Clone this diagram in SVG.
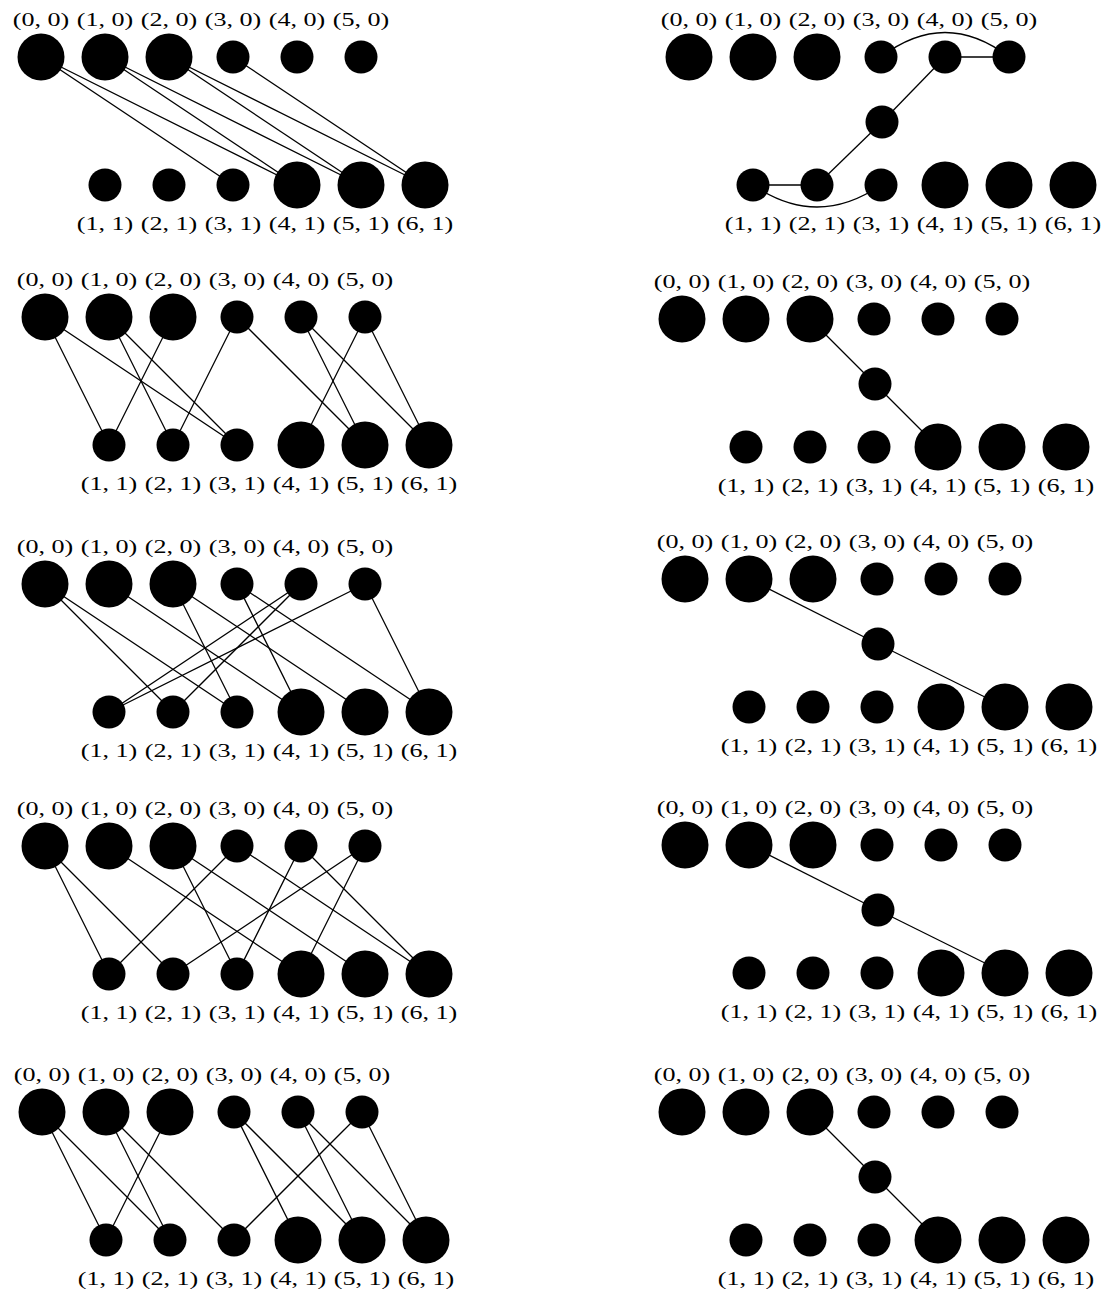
<svg xmlns="http://www.w3.org/2000/svg" width="1107" height="1291" viewBox="0 0 1107 1291">
<style>
.e{stroke:#000;stroke-width:1.3;fill:none}
circle{fill:#000}
text{font-family:"Liberation Serif","DejaVu Serif",serif;font-size:18px;text-anchor:middle;fill:#000}
</style>
<rect width="1107" height="1291" fill="#fff"/>

<!-- Panel L1 -->
<g id="L1">
<g id="L1-edges">
<line class="e" x1="41" y1="57" x2="233" y2="185"/>
<line class="e" x1="41" y1="57" x2="297" y2="185"/>
<line class="e" x1="105" y1="57" x2="297" y2="185"/>
<line class="e" x1="105" y1="57" x2="361" y2="185"/>
<line class="e" x1="169" y1="57" x2="361" y2="185"/>
<line class="e" x1="169" y1="57" x2="425" y2="185"/>
<line class="e" x1="233" y1="57" x2="425" y2="185"/>
</g>
<g id="L1-n00"><circle cx="41" cy="57" r="23.5"/><text transform="translate(41 26) scale(1.45 1)">(0, 0)</text></g>
<g id="L1-n10"><circle cx="105" cy="57" r="23.5"/><text transform="translate(105 26) scale(1.45 1)">(1, 0)</text></g>
<g id="L1-n20"><circle cx="169" cy="57" r="23.5"/><text transform="translate(169 26) scale(1.45 1)">(2, 0)</text></g>
<g id="L1-n30"><circle cx="233" cy="57" r="16.5"/><text transform="translate(233 26) scale(1.45 1)">(3, 0)</text></g>
<g id="L1-n40"><circle cx="297" cy="57" r="16.5"/><text transform="translate(297 26) scale(1.45 1)">(4, 0)</text></g>
<g id="L1-n50"><circle cx="361" cy="57" r="16.5"/><text transform="translate(361 26) scale(1.45 1)">(5, 0)</text></g>
<g id="L1-n11"><circle cx="105" cy="185" r="16.5"/><text transform="translate(105 230) scale(1.45 1)">(1, 1)</text></g>
<g id="L1-n21"><circle cx="169" cy="185" r="16.5"/><text transform="translate(169 230) scale(1.45 1)">(2, 1)</text></g>
<g id="L1-n31"><circle cx="233" cy="185" r="16.5"/><text transform="translate(233 230) scale(1.45 1)">(3, 1)</text></g>
<g id="L1-n41"><circle cx="297" cy="185" r="23.5"/><text transform="translate(297 230) scale(1.45 1)">(4, 1)</text></g>
<g id="L1-n51"><circle cx="361" cy="185" r="23.5"/><text transform="translate(361 230) scale(1.45 1)">(5, 1)</text></g>
<g id="L1-n61"><circle cx="425" cy="185" r="23.5"/><text transform="translate(425 230) scale(1.45 1)">(6, 1)</text></g>
</g>

<!-- Panel R1 -->
<g id="R1">
<g id="R1-edges">
<line class="e" x1="945" y1="57" x2="1009" y2="57"/>
<path class="e" d="M881 57 Q945 8 1009 57"/>
<line class="e" x1="882" y1="122" x2="945" y2="57"/>
<line class="e" x1="882" y1="122" x2="817" y2="185"/>
<line class="e" x1="753" y1="185" x2="817" y2="185"/>
<path class="e" d="M753 185 Q817 229 881 185"/>
</g>
<g id="R1-n00"><circle cx="689" cy="57" r="23.5"/><text transform="translate(689 26) scale(1.45 1)">(0, 0)</text></g>
<g id="R1-n10"><circle cx="753" cy="57" r="23.5"/><text transform="translate(753 26) scale(1.45 1)">(1, 0)</text></g>
<g id="R1-n20"><circle cx="817" cy="57" r="23.5"/><text transform="translate(817 26) scale(1.45 1)">(2, 0)</text></g>
<g id="R1-n30"><circle cx="881" cy="57" r="16.5"/><text transform="translate(881 26) scale(1.45 1)">(3, 0)</text></g>
<g id="R1-n40"><circle cx="945" cy="57" r="16.5"/><text transform="translate(945 26) scale(1.45 1)">(4, 0)</text></g>
<g id="R1-n50"><circle cx="1009" cy="57" r="16.5"/><text transform="translate(1009 26) scale(1.45 1)">(5, 0)</text></g>
<g id="R1-mid"><circle cx="882" cy="122" r="16.5"/></g>
<g id="R1-n11"><circle cx="753" cy="185" r="16.5"/><text transform="translate(753 230) scale(1.45 1)">(1, 1)</text></g>
<g id="R1-n21"><circle cx="817" cy="185" r="16.5"/><text transform="translate(817 230) scale(1.45 1)">(2, 1)</text></g>
<g id="R1-n31"><circle cx="881" cy="185" r="16.5"/><text transform="translate(881 230) scale(1.45 1)">(3, 1)</text></g>
<g id="R1-n41"><circle cx="945" cy="185" r="23.5"/><text transform="translate(945 230) scale(1.45 1)">(4, 1)</text></g>
<g id="R1-n51"><circle cx="1009" cy="185" r="23.5"/><text transform="translate(1009 230) scale(1.45 1)">(5, 1)</text></g>
<g id="R1-n61"><circle cx="1073" cy="185" r="23.5"/><text transform="translate(1073 230) scale(1.45 1)">(6, 1)</text></g>
</g>

<!-- Panel L2 -->
<g id="L2">
<g id="L2-edges">
<line class="e" x1="45" y1="317" x2="109" y2="445"/>
<line class="e" x1="45" y1="317" x2="237" y2="445"/>
<line class="e" x1="109" y1="317" x2="173" y2="445"/>
<line class="e" x1="109" y1="317" x2="237" y2="445"/>
<line class="e" x1="173" y1="317" x2="109" y2="445"/>
<line class="e" x1="237" y1="317" x2="173" y2="445"/>
<line class="e" x1="237" y1="317" x2="365" y2="445"/>
<line class="e" x1="301" y1="317" x2="365" y2="445"/>
<line class="e" x1="301" y1="317" x2="429" y2="445"/>
<line class="e" x1="365" y1="317" x2="301" y2="445"/>
<line class="e" x1="365" y1="317" x2="429" y2="445"/>
</g>
<g id="L2-n00"><circle cx="45" cy="317" r="23.5"/><text transform="translate(45 286) scale(1.45 1)">(0, 0)</text></g>
<g id="L2-n10"><circle cx="109" cy="317" r="23.5"/><text transform="translate(109 286) scale(1.45 1)">(1, 0)</text></g>
<g id="L2-n20"><circle cx="173" cy="317" r="23.5"/><text transform="translate(173 286) scale(1.45 1)">(2, 0)</text></g>
<g id="L2-n30"><circle cx="237" cy="317" r="16.5"/><text transform="translate(237 286) scale(1.45 1)">(3, 0)</text></g>
<g id="L2-n40"><circle cx="301" cy="317" r="16.5"/><text transform="translate(301 286) scale(1.45 1)">(4, 0)</text></g>
<g id="L2-n50"><circle cx="365" cy="317" r="16.5"/><text transform="translate(365 286) scale(1.45 1)">(5, 0)</text></g>
<g id="L2-n11"><circle cx="109" cy="445" r="16.5"/><text transform="translate(109 490) scale(1.45 1)">(1, 1)</text></g>
<g id="L2-n21"><circle cx="173" cy="445" r="16.5"/><text transform="translate(173 490) scale(1.45 1)">(2, 1)</text></g>
<g id="L2-n31"><circle cx="237" cy="445" r="16.5"/><text transform="translate(237 490) scale(1.45 1)">(3, 1)</text></g>
<g id="L2-n41"><circle cx="301" cy="445" r="23.5"/><text transform="translate(301 490) scale(1.45 1)">(4, 1)</text></g>
<g id="L2-n51"><circle cx="365" cy="445" r="23.5"/><text transform="translate(365 490) scale(1.45 1)">(5, 1)</text></g>
<g id="L2-n61"><circle cx="429" cy="445" r="23.5"/><text transform="translate(429 490) scale(1.45 1)">(6, 1)</text></g>
</g>

<!-- Panel R2 -->
<g id="R2">
<g id="R2-edges">
<line class="e" x1="810" y1="319" x2="875" y2="384"/>
<line class="e" x1="875" y1="384" x2="938" y2="447"/>
</g>
<g id="R2-n00"><circle cx="682" cy="319" r="23.5"/><text transform="translate(682 288) scale(1.45 1)">(0, 0)</text></g>
<g id="R2-n10"><circle cx="746" cy="319" r="23.5"/><text transform="translate(746 288) scale(1.45 1)">(1, 0)</text></g>
<g id="R2-n20"><circle cx="810" cy="319" r="23.5"/><text transform="translate(810 288) scale(1.45 1)">(2, 0)</text></g>
<g id="R2-n30"><circle cx="874" cy="319" r="16.5"/><text transform="translate(874 288) scale(1.45 1)">(3, 0)</text></g>
<g id="R2-n40"><circle cx="938" cy="319" r="16.5"/><text transform="translate(938 288) scale(1.45 1)">(4, 0)</text></g>
<g id="R2-n50"><circle cx="1002" cy="319" r="16.5"/><text transform="translate(1002 288) scale(1.45 1)">(5, 0)</text></g>
<g id="R2-mid"><circle cx="875" cy="384" r="16.5"/></g>
<g id="R2-n11"><circle cx="746" cy="447" r="16.5"/><text transform="translate(746 492) scale(1.45 1)">(1, 1)</text></g>
<g id="R2-n21"><circle cx="810" cy="447" r="16.5"/><text transform="translate(810 492) scale(1.45 1)">(2, 1)</text></g>
<g id="R2-n31"><circle cx="874" cy="447" r="16.5"/><text transform="translate(874 492) scale(1.45 1)">(3, 1)</text></g>
<g id="R2-n41"><circle cx="938" cy="447" r="23.5"/><text transform="translate(938 492) scale(1.45 1)">(4, 1)</text></g>
<g id="R2-n51"><circle cx="1002" cy="447" r="23.5"/><text transform="translate(1002 492) scale(1.45 1)">(5, 1)</text></g>
<g id="R2-n61"><circle cx="1066" cy="447" r="23.5"/><text transform="translate(1066 492) scale(1.45 1)">(6, 1)</text></g>
</g>

<!-- Panel L3 -->
<g id="L3">
<g id="L3-edges">
<line class="e" x1="45" y1="584" x2="173" y2="712"/>
<line class="e" x1="45" y1="584" x2="237" y2="712"/>
<line class="e" x1="109" y1="584" x2="301" y2="712"/>
<line class="e" x1="173" y1="584" x2="237" y2="712"/>
<line class="e" x1="173" y1="584" x2="365" y2="712"/>
<line class="e" x1="237" y1="584" x2="301" y2="712"/>
<line class="e" x1="237" y1="584" x2="429" y2="712"/>
<line class="e" x1="301" y1="584" x2="109" y2="712"/>
<line class="e" x1="301" y1="584" x2="173" y2="712"/>
<line class="e" x1="365" y1="584" x2="109" y2="712"/>
<line class="e" x1="365" y1="584" x2="429" y2="712"/>
</g>
<g id="L3-n00"><circle cx="45" cy="584" r="23.5"/><text transform="translate(45 553) scale(1.45 1)">(0, 0)</text></g>
<g id="L3-n10"><circle cx="109" cy="584" r="23.5"/><text transform="translate(109 553) scale(1.45 1)">(1, 0)</text></g>
<g id="L3-n20"><circle cx="173" cy="584" r="23.5"/><text transform="translate(173 553) scale(1.45 1)">(2, 0)</text></g>
<g id="L3-n30"><circle cx="237" cy="584" r="16.5"/><text transform="translate(237 553) scale(1.45 1)">(3, 0)</text></g>
<g id="L3-n40"><circle cx="301" cy="584" r="16.5"/><text transform="translate(301 553) scale(1.45 1)">(4, 0)</text></g>
<g id="L3-n50"><circle cx="365" cy="584" r="16.5"/><text transform="translate(365 553) scale(1.45 1)">(5, 0)</text></g>
<g id="L3-n11"><circle cx="109" cy="712" r="16.5"/><text transform="translate(109 757) scale(1.45 1)">(1, 1)</text></g>
<g id="L3-n21"><circle cx="173" cy="712" r="16.5"/><text transform="translate(173 757) scale(1.45 1)">(2, 1)</text></g>
<g id="L3-n31"><circle cx="237" cy="712" r="16.5"/><text transform="translate(237 757) scale(1.45 1)">(3, 1)</text></g>
<g id="L3-n41"><circle cx="301" cy="712" r="23.5"/><text transform="translate(301 757) scale(1.45 1)">(4, 1)</text></g>
<g id="L3-n51"><circle cx="365" cy="712" r="23.5"/><text transform="translate(365 757) scale(1.45 1)">(5, 1)</text></g>
<g id="L3-n61"><circle cx="429" cy="712" r="23.5"/><text transform="translate(429 757) scale(1.45 1)">(6, 1)</text></g>
</g>

<!-- Panel R3 -->
<g id="R3">
<g id="R3-edges">
<line class="e" x1="749" y1="579" x2="878" y2="644"/>
<line class="e" x1="878" y1="644" x2="1005" y2="707"/>
</g>
<g id="R3-n00"><circle cx="685" cy="579" r="23.5"/><text transform="translate(685 548) scale(1.45 1)">(0, 0)</text></g>
<g id="R3-n10"><circle cx="749" cy="579" r="23.5"/><text transform="translate(749 548) scale(1.45 1)">(1, 0)</text></g>
<g id="R3-n20"><circle cx="813" cy="579" r="23.5"/><text transform="translate(813 548) scale(1.45 1)">(2, 0)</text></g>
<g id="R3-n30"><circle cx="877" cy="579" r="16.5"/><text transform="translate(877 548) scale(1.45 1)">(3, 0)</text></g>
<g id="R3-n40"><circle cx="941" cy="579" r="16.5"/><text transform="translate(941 548) scale(1.45 1)">(4, 0)</text></g>
<g id="R3-n50"><circle cx="1005" cy="579" r="16.5"/><text transform="translate(1005 548) scale(1.45 1)">(5, 0)</text></g>
<g id="R3-mid"><circle cx="878" cy="644" r="16.5"/></g>
<g id="R3-n11"><circle cx="749" cy="707" r="16.5"/><text transform="translate(749 752) scale(1.45 1)">(1, 1)</text></g>
<g id="R3-n21"><circle cx="813" cy="707" r="16.5"/><text transform="translate(813 752) scale(1.45 1)">(2, 1)</text></g>
<g id="R3-n31"><circle cx="877" cy="707" r="16.5"/><text transform="translate(877 752) scale(1.45 1)">(3, 1)</text></g>
<g id="R3-n41"><circle cx="941" cy="707" r="23.5"/><text transform="translate(941 752) scale(1.45 1)">(4, 1)</text></g>
<g id="R3-n51"><circle cx="1005" cy="707" r="23.5"/><text transform="translate(1005 752) scale(1.45 1)">(5, 1)</text></g>
<g id="R3-n61"><circle cx="1069" cy="707" r="23.5"/><text transform="translate(1069 752) scale(1.45 1)">(6, 1)</text></g>
</g>

<!-- Panel L4 -->
<g id="L4">
<g id="L4-edges">
<line class="e" x1="45" y1="846" x2="109" y2="974"/>
<line class="e" x1="45" y1="846" x2="173" y2="974"/>
<line class="e" x1="109" y1="846" x2="301" y2="974"/>
<line class="e" x1="173" y1="846" x2="237" y2="974"/>
<line class="e" x1="173" y1="846" x2="365" y2="974"/>
<line class="e" x1="237" y1="846" x2="109" y2="974"/>
<line class="e" x1="237" y1="846" x2="429" y2="974"/>
<line class="e" x1="301" y1="846" x2="237" y2="974"/>
<line class="e" x1="301" y1="846" x2="429" y2="974"/>
<line class="e" x1="365" y1="846" x2="173" y2="974"/>
<line class="e" x1="365" y1="846" x2="301" y2="974"/>
</g>
<g id="L4-n00"><circle cx="45" cy="846" r="23.5"/><text transform="translate(45 815) scale(1.45 1)">(0, 0)</text></g>
<g id="L4-n10"><circle cx="109" cy="846" r="23.5"/><text transform="translate(109 815) scale(1.45 1)">(1, 0)</text></g>
<g id="L4-n20"><circle cx="173" cy="846" r="23.5"/><text transform="translate(173 815) scale(1.45 1)">(2, 0)</text></g>
<g id="L4-n30"><circle cx="237" cy="846" r="16.5"/><text transform="translate(237 815) scale(1.45 1)">(3, 0)</text></g>
<g id="L4-n40"><circle cx="301" cy="846" r="16.5"/><text transform="translate(301 815) scale(1.45 1)">(4, 0)</text></g>
<g id="L4-n50"><circle cx="365" cy="846" r="16.5"/><text transform="translate(365 815) scale(1.45 1)">(5, 0)</text></g>
<g id="L4-n11"><circle cx="109" cy="974" r="16.5"/><text transform="translate(109 1019) scale(1.45 1)">(1, 1)</text></g>
<g id="L4-n21"><circle cx="173" cy="974" r="16.5"/><text transform="translate(173 1019) scale(1.45 1)">(2, 1)</text></g>
<g id="L4-n31"><circle cx="237" cy="974" r="16.5"/><text transform="translate(237 1019) scale(1.45 1)">(3, 1)</text></g>
<g id="L4-n41"><circle cx="301" cy="974" r="23.5"/><text transform="translate(301 1019) scale(1.45 1)">(4, 1)</text></g>
<g id="L4-n51"><circle cx="365" cy="974" r="23.5"/><text transform="translate(365 1019) scale(1.45 1)">(5, 1)</text></g>
<g id="L4-n61"><circle cx="429" cy="974" r="23.5"/><text transform="translate(429 1019) scale(1.45 1)">(6, 1)</text></g>
</g>

<!-- Panel R4 -->
<g id="R4">
<g id="R4-edges">
<line class="e" x1="749" y1="845" x2="878" y2="910"/>
<line class="e" x1="878" y1="910" x2="1005" y2="973"/>
</g>
<g id="R4-n00"><circle cx="685" cy="845" r="23.5"/><text transform="translate(685 814) scale(1.45 1)">(0, 0)</text></g>
<g id="R4-n10"><circle cx="749" cy="845" r="23.5"/><text transform="translate(749 814) scale(1.45 1)">(1, 0)</text></g>
<g id="R4-n20"><circle cx="813" cy="845" r="23.5"/><text transform="translate(813 814) scale(1.45 1)">(2, 0)</text></g>
<g id="R4-n30"><circle cx="877" cy="845" r="16.5"/><text transform="translate(877 814) scale(1.45 1)">(3, 0)</text></g>
<g id="R4-n40"><circle cx="941" cy="845" r="16.5"/><text transform="translate(941 814) scale(1.45 1)">(4, 0)</text></g>
<g id="R4-n50"><circle cx="1005" cy="845" r="16.5"/><text transform="translate(1005 814) scale(1.45 1)">(5, 0)</text></g>
<g id="R4-mid"><circle cx="878" cy="910" r="16.5"/></g>
<g id="R4-n11"><circle cx="749" cy="973" r="16.5"/><text transform="translate(749 1018) scale(1.45 1)">(1, 1)</text></g>
<g id="R4-n21"><circle cx="813" cy="973" r="16.5"/><text transform="translate(813 1018) scale(1.45 1)">(2, 1)</text></g>
<g id="R4-n31"><circle cx="877" cy="973" r="16.5"/><text transform="translate(877 1018) scale(1.45 1)">(3, 1)</text></g>
<g id="R4-n41"><circle cx="941" cy="973" r="23.5"/><text transform="translate(941 1018) scale(1.45 1)">(4, 1)</text></g>
<g id="R4-n51"><circle cx="1005" cy="973" r="23.5"/><text transform="translate(1005 1018) scale(1.45 1)">(5, 1)</text></g>
<g id="R4-n61"><circle cx="1069" cy="973" r="23.5"/><text transform="translate(1069 1018) scale(1.45 1)">(6, 1)</text></g>
</g>

<!-- Panel L5 -->
<g id="L5">
<g id="L5-edges">
<line class="e" x1="42" y1="1112" x2="106" y2="1240"/>
<line class="e" x1="42" y1="1112" x2="170" y2="1240"/>
<line class="e" x1="106" y1="1112" x2="170" y2="1240"/>
<line class="e" x1="106" y1="1112" x2="234" y2="1240"/>
<line class="e" x1="170" y1="1112" x2="106" y2="1240"/>
<line class="e" x1="234" y1="1112" x2="298" y2="1240"/>
<line class="e" x1="234" y1="1112" x2="362" y2="1240"/>
<line class="e" x1="298" y1="1112" x2="362" y2="1240"/>
<line class="e" x1="298" y1="1112" x2="426" y2="1240"/>
<line class="e" x1="362" y1="1112" x2="234" y2="1240"/>
<line class="e" x1="362" y1="1112" x2="426" y2="1240"/>
</g>
<g id="L5-n00"><circle cx="42" cy="1112" r="23.5"/><text transform="translate(42 1081) scale(1.45 1)">(0, 0)</text></g>
<g id="L5-n10"><circle cx="106" cy="1112" r="23.5"/><text transform="translate(106 1081) scale(1.45 1)">(1, 0)</text></g>
<g id="L5-n20"><circle cx="170" cy="1112" r="23.5"/><text transform="translate(170 1081) scale(1.45 1)">(2, 0)</text></g>
<g id="L5-n30"><circle cx="234" cy="1112" r="16.5"/><text transform="translate(234 1081) scale(1.45 1)">(3, 0)</text></g>
<g id="L5-n40"><circle cx="298" cy="1112" r="16.5"/><text transform="translate(298 1081) scale(1.45 1)">(4, 0)</text></g>
<g id="L5-n50"><circle cx="362" cy="1112" r="16.5"/><text transform="translate(362 1081) scale(1.45 1)">(5, 0)</text></g>
<g id="L5-n11"><circle cx="106" cy="1240" r="16.5"/><text transform="translate(106 1285) scale(1.45 1)">(1, 1)</text></g>
<g id="L5-n21"><circle cx="170" cy="1240" r="16.5"/><text transform="translate(170 1285) scale(1.45 1)">(2, 1)</text></g>
<g id="L5-n31"><circle cx="234" cy="1240" r="16.5"/><text transform="translate(234 1285) scale(1.45 1)">(3, 1)</text></g>
<g id="L5-n41"><circle cx="298" cy="1240" r="23.5"/><text transform="translate(298 1285) scale(1.45 1)">(4, 1)</text></g>
<g id="L5-n51"><circle cx="362" cy="1240" r="23.5"/><text transform="translate(362 1285) scale(1.45 1)">(5, 1)</text></g>
<g id="L5-n61"><circle cx="426" cy="1240" r="23.5"/><text transform="translate(426 1285) scale(1.45 1)">(6, 1)</text></g>
</g>

<!-- Panel R5 -->
<g id="R5">
<g id="R5-edges">
<line class="e" x1="810" y1="1112" x2="875" y2="1177"/>
<line class="e" x1="875" y1="1177" x2="938" y2="1240"/>
</g>
<g id="R5-n00"><circle cx="682" cy="1112" r="23.5"/><text transform="translate(682 1081) scale(1.45 1)">(0, 0)</text></g>
<g id="R5-n10"><circle cx="746" cy="1112" r="23.5"/><text transform="translate(746 1081) scale(1.45 1)">(1, 0)</text></g>
<g id="R5-n20"><circle cx="810" cy="1112" r="23.5"/><text transform="translate(810 1081) scale(1.45 1)">(2, 0)</text></g>
<g id="R5-n30"><circle cx="874" cy="1112" r="16.5"/><text transform="translate(874 1081) scale(1.45 1)">(3, 0)</text></g>
<g id="R5-n40"><circle cx="938" cy="1112" r="16.5"/><text transform="translate(938 1081) scale(1.45 1)">(4, 0)</text></g>
<g id="R5-n50"><circle cx="1002" cy="1112" r="16.5"/><text transform="translate(1002 1081) scale(1.45 1)">(5, 0)</text></g>
<g id="R5-mid"><circle cx="875" cy="1177" r="16.5"/></g>
<g id="R5-n11"><circle cx="746" cy="1240" r="16.5"/><text transform="translate(746 1285) scale(1.45 1)">(1, 1)</text></g>
<g id="R5-n21"><circle cx="810" cy="1240" r="16.5"/><text transform="translate(810 1285) scale(1.45 1)">(2, 1)</text></g>
<g id="R5-n31"><circle cx="874" cy="1240" r="16.5"/><text transform="translate(874 1285) scale(1.45 1)">(3, 1)</text></g>
<g id="R5-n41"><circle cx="938" cy="1240" r="23.5"/><text transform="translate(938 1285) scale(1.45 1)">(4, 1)</text></g>
<g id="R5-n51"><circle cx="1002" cy="1240" r="23.5"/><text transform="translate(1002 1285) scale(1.45 1)">(5, 1)</text></g>
<g id="R5-n61"><circle cx="1066" cy="1240" r="23.5"/><text transform="translate(1066 1285) scale(1.45 1)">(6, 1)</text></g>
</g>
</svg>
